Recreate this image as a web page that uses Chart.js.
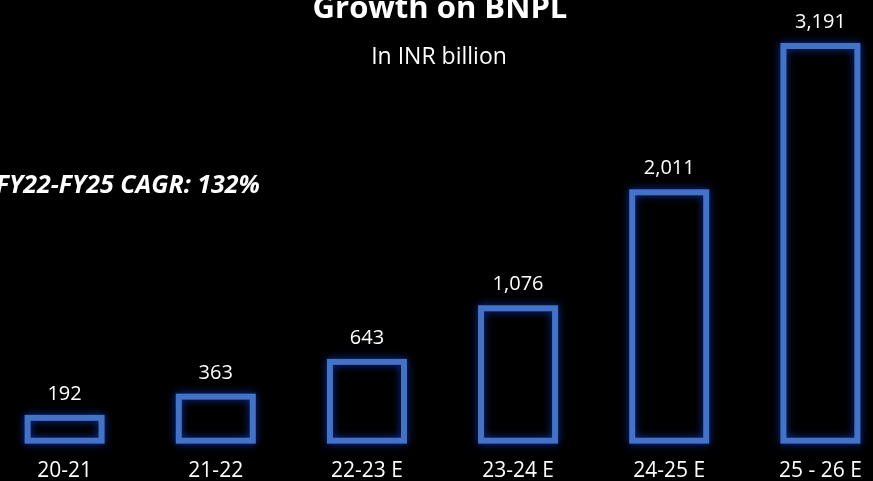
<!DOCTYPE html>
<html>
<head>
<meta charset="utf-8">
<script src="https://cdn.jsdelivr.net/npm/chart.js@4.4.1/dist/chart.umd.min.js"></script>
<style>
    html, body { margin: 0; padding: 0; background: #000; overflow: hidden; }
    #wrap { position: absolute; left: -11px; top: 0; width: 907px; height: 481px; }
</style>
</head>
<body>
<div id="wrap"><canvas id="bnplChart" width="907" height="481"></canvas></div>
<script>
var years = ['20-21', '21-22', '22-23 E', '23-24 E', '24-25 E', '25 - 26 E'];
var bnplValues = [192, 363, 643, 1076, 2011, 3191];
var titleText = 'Growth on BNPL';
var subtitleText = 'In INR billion';
var cagrText = 'FY22-FY25 CAGR: 132%';

var barBlue = '#4472C4';

// soft blue glow behind each bar outline
var glowPlugin = {
    id: 'barGlow',
    beforeDatasetsDraw: function (chart) {
        var ctx = chart.ctx;
        var meta = chart.getDatasetMeta(0);
        ctx.save();
        ctx.strokeStyle = 'rgba(30,80,200,0.8)';
        ctx.lineWidth = 6;
        ctx.shadowColor = 'rgba(20,70,220,0.9)';
        ctx.shadowBlur = 9;
        meta.data.forEach(function (bar) {
            var p = bar.getProps(['x', 'y', 'base', 'width'], true);
            var left = p.x - p.width / 2;
            ctx.strokeRect(left + 3, p.y + 3, p.width - 6, p.base - p.y - 6);
        });
        ctx.restore();
    }
};

// value above each bar, title, subtitle and CAGR note
var textPlugin = {
    id: 'chartTexts',
    afterDatasetsDraw: function (chart) {
        var ctx = chart.ctx;
        var meta = chart.getDatasetMeta(0);
        ctx.save();
        ctx.fillStyle = '#fff';
        ctx.textAlign = 'center';
        ctx.textBaseline = 'alphabetic';
        ctx.font = '20px "Open Sans"';
        meta.data.forEach(function (bar, i) {
            ctx.fillText(bnplValues[i].toLocaleString('en-US'), bar.x, bar.y - 15);
        });

        ctx.font = 'bold 31px "Open Sans"';
        ctx.fillText(titleText, 451, 18);
        ctx.font = '23px "Open Sans"';
        ctx.fillText(subtitleText, 450, 64);

        ctx.textAlign = 'right';
        ctx.font = 'italic bold 25px "Open Sans"';
        ctx.fillText(cagrText, 271, 193);
        ctx.restore();
    }
};

var ctx = document.getElementById('bnplChart').getContext('2d');
var chart = new Chart(ctx, {
    type: 'bar',
    data: {
        labels: years,
        datasets: [{
            data: bnplValues,
            backgroundColor: 'rgba(0,0,0,0)',
            borderColor: barBlue,
            borderWidth: 6,
            borderSkipped: false,
            base: -42,
            barPercentage: 0.53,
            categoryPercentage: 1
        }]
    },
    options: {
        responsive: false,
        animation: false,
        layout: { padding: { top: 17, left: 0, right: 0, bottom: -18 } },
        plugins: {
            legend: { display: false },
            tooltip: { enabled: false }
        },
        scales: {
            x: {
                grid: { display: false, drawTicks: false },
                border: { display: false },
                ticks: {
                    color: '#fff',
                    padding: 15,
                    font: { family: 'Open Sans', size: 21 }
                }
            },
            y: {
                display: false,
                min: -42,
                max: 3400
            }
        }
    },
    plugins: [glowPlugin, textPlugin]
});
</script>
</body>
</html>
